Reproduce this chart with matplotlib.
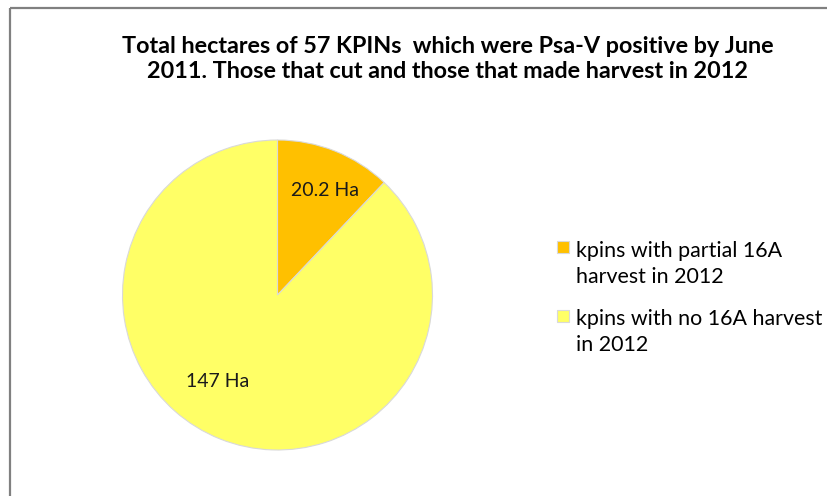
import matplotlib
matplotlib.use("Agg")
import matplotlib.pyplot as plt
from matplotlib.lines import Line2D
from matplotlib.patches import Rectangle
from matplotlib.legend_handler import HandlerPatch
import numpy as np

title = "Total hectares of 57 KPINs  which were Psa-V positive by June\n2011. Those that cut and those that made harvest in 2012"
categories = ["kpins with partial 16A\nharvest in 2012", "kpins with no 16A harvest\nin 2012"]
values = [20.2, 147]
value_labels = ["20.2 Ha", "147 Ha"]
colors = ["#FFC000", "#FFFF66"]

plt.rcParams['font.family'] = ['Lato', 'DejaVu Sans']

W, H = 828, 496
fig = plt.figure(figsize=(W / 100, H / 100), dpi=100)

# border (top and left visible)
fig.add_artist(Line2D([9.5 / W, 1.02], [1 - 8 / H, 1 - 8 / H], color="#808080", lw=1.6,
                      transform=fig.transFigure, solid_capstyle="butt"))
fig.add_artist(Line2D([10 / W, 10 / W], [-0.02, 1 - 8 / H], color="#808080", lw=1.6,
                      transform=fig.transFigure, solid_capstyle="butt"))

cx, cy, r = 277.5, 295, 155
ax = fig.add_axes([(cx - r) / W, 1 - (cy + r) / H, 2 * r / W, 2 * r / H])
wedges, texts = ax.pie(values, colors=colors, startangle=90, counterclock=False,
                       labels=value_labels, labeldistance=0.72,
                       wedgeprops=dict(edgecolor="#d9d9d9", linewidth=0.8),
                       textprops=dict(fontsize=14, color="#1a1a1a"))
adj = [(0.74, -2.5), (0.68, -13.0)]
for t, w, (dist, dang) in zip(texts, wedges, adj):
    ang = np.deg2rad((w.theta1 + w.theta2) / 2 + dang)
    t.set_position((dist * np.cos(ang), dist * np.sin(ang)))
    t.set_ha("center")
    t.set_va("center")
ax.set_xlim(-1, 1)
ax.set_ylim(-1, 1)
ax.set_aspect("auto")
ax.axis("off")

fig.text(447.5 / W, 1 - 59 / H, title, ha="center", va="center", fontsize=16.8,
         fontweight="bold", color="#000000", linespacing=1.2)


def top_square(legend, orig_handle, xdescent, ydescent, width, height, fontsize):
    s = 8.6
    return Rectangle((-xdescent, -ydescent + height / 2 - s / 2 + 12.2), s, s)


leg = fig.legend(wedges, categories, loc="upper left", bbox_to_anchor=(548 / W, 1 - 232 / H),
                 frameon=False, fontsize=15.4, handlelength=0.6, handleheight=0.6,
                 handletextpad=0.3, labelspacing=1.0, borderaxespad=0,
                 handler_map={w: HandlerPatch(patch_func=top_square) for w in wedges})
for t in leg.get_texts():
    t.set_linespacing(1.42)

fig.savefig("out.png", dpi=100)
